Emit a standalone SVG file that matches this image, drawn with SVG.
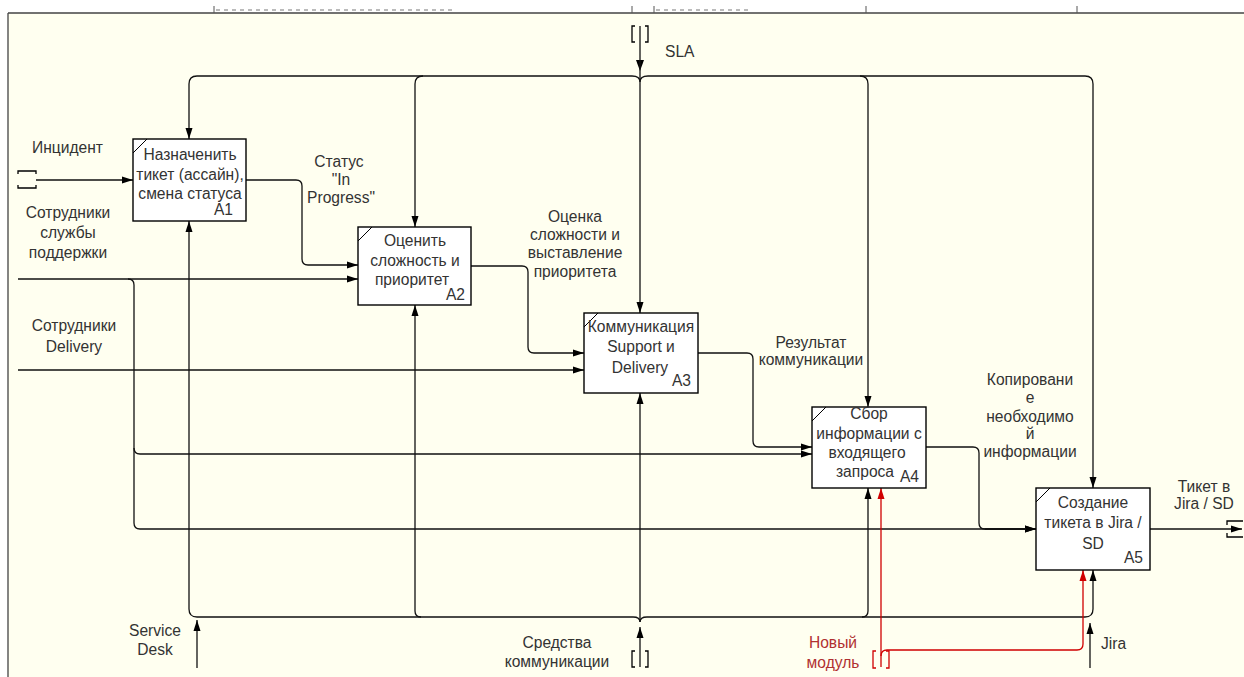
<svg xmlns="http://www.w3.org/2000/svg" width="1244" height="677" viewBox="0 0 1244 677">
  <defs>
    <marker id="arr" markerUnits="userSpaceOnUse" markerWidth="11" markerHeight="8" refX="11" refY="4" orient="auto">
      <path d="M0,0.5 L11,4 L0,7.5 z" fill="#000"/>
    </marker>
    <marker id="arrRed" markerUnits="userSpaceOnUse" markerWidth="11" markerHeight="8" refX="11" refY="4" orient="auto">
      <path d="M0,0.5 L11,4 L0,7.5 z" fill="#d00000"/>
    </marker>
    <style>
      .box { fill: #ffffff; stroke: #000; stroke-width: 1.4; }
      .tick { fill: none; stroke: #000; stroke-width: 1; }
      .t { font-family: "Liberation Sans", Arial, sans-serif; font-size: 15.6px; fill: #333; }
      .c { text-anchor: middle; }
      .r { text-anchor: end; }
      .red { fill: #b03030; }
      .ln { fill: none; stroke: #111; stroke-width: 1.3; }
      .lnA { fill: none; stroke: #111; stroke-width: 1.3; marker-end: url(#arr); }
      .lnR { fill: none; stroke: #d00000; stroke-width: 1.3; marker-end: url(#arrRed); }
      .brk { fill: none; stroke: #000; stroke-width: 1.3; }
      .brkR { fill: none; stroke: #d00000; stroke-width: 1.3; }
    </style>
  </defs>

  <!-- page and frame -->
  <rect x="0" y="0" width="1244" height="677" fill="#ffffff"/>
  <rect x="8" y="13" width="1236" height="664" fill="#fffff0"/>
  <path d="M8,13 H1244 M8,13 V677" fill="none" stroke="#444" stroke-width="1.3"/>
  <path d="M214,6 V13 M632,6 V13 M654,6 V13 M866,6 V13 M1077,6 V13" fill="none" stroke="#555" stroke-width="1"/>
  <path d="M216,10 H455 M656,10 H750" fill="none" stroke="#bbb" stroke-width="2" stroke-dasharray="4,4"/>

  <!-- connectors -->
  <g id="connectors">
    <!-- control bus (SLA) -->
    <path class="lnA" d="M632,76 H197 Q189,76 189,84 V139"/>
    <path class="lnA" d="M648,76 H1085 Q1093,76 1093,84 V488"/>
    <path class="lnA" d="M423,76 Q415,76 415,84 V227"/>
    <path class="lnA" d="M860,76 Q868,76 868,84 V407"/>
    <path class="ln" d="M632,76 Q640,76 640,82 M648,76 Q640,76 640,82"/>
    <path class="ln" d="M640,26 V60" stroke-width="2.2"/>
    <path d="M636,60 L644,60 L640,71 z" fill="#000"/>
    <path class="lnA" d="M640,60 V313"/>

    <!-- mechanism bus -->
    <path class="lnA" d="M633,617 H197 Q189,617 189,609 V221"/>
    <path class="lnA" d="M647,617 H1085 Q1093,617 1093,609 V570"/>
    <path class="lnA" d="M421,617 Q415,617 415,611 V305"/>
    <path class="lnA" d="M640,622 V393"/>
    <path class="ln" d="M633,617 Q640,617 640,622 M647,617 Q640,617 640,622"/>
    <path class="lnA" d="M862,617 Q868,617 868,611 V488"/>
    <path class="lnA" d="M640,667 V627"/>
    <path class="lnA" d="M197,668 V620"/>
    <path class="lnA" d="M1090,668 V623"/>

    <!-- inputs and outputs -->
    <path class="lnA" d="M36,180 H133"/>
    <path class="lnA" d="M246,180 H296 Q302,180 302,186 V259 Q302,265 308,265 H358"/>
    <path class="lnA" d="M18,279 H358"/>
    <path class="ln" d="M128,279 Q134,279 134,285 V448" stroke-width="2.6"/>
    <path class="lnA" d="M134,448 Q134,454 140,454 H812"/>
    <path class="lnA" d="M134,448 V523 Q134,529 140,529 H1036"/>
    <path class="lnA" d="M18,370 H584"/>
    <path class="lnA" d="M471,266 H522 Q528,266 528,272 V347 Q528,353 534,353 H584"/>
    <path class="lnA" d="M698,353 H747 Q753,353 753,359 V441 Q753,447 759,447 H812"/>
    <path class="lnA" d="M926,447 H973 Q979,447 979,453 V523 Q979,529 985,529 H1036"/>
    <path class="ln" d="M985,529 H1026" stroke-width="2.6"/>
    <path class="lnA" d="M1150,529 H1242"/>

    <!-- new module (red) -->
    <path class="lnR" d="M881,667 V488"/>
    <path class="lnR" d="M881,656 Q881,650 887,650 H1077 Q1083,650 1083,644 V570"/>

    <!-- tunnel brackets -->
    <path class="brk" d="M635,26 H632 V42 H635 M645,26 H648 V42 H645"/>
    <path class="brk" d="M635,651 H632 V667 H635 M645,651 H648 V667 H645"/>
    <path class="brkR" d="M876,651 H873 V668 H876 M886,651 H889 V668 H886"/>
    <path class="brk" d="M18,174 V171 H36 V174 M18,185 V188 H36 V185"/>
    <path class="brk" d="M1243,521 H1227 V525 M1243,537 H1227 V533"/>
  </g>

  <!-- activity boxes -->
  <g id="A1">
    <rect class="box" x="133" y="139" width="113" height="82"/>
    <path class="tick" d="M133,153 L147,139"/>
    <text class="t c" x="190" y="160">Назначенить</text>
    <text class="t c" x="190" y="180">тикет (ассайн),</text>
    <text class="t c" x="190" y="199">смена статуса</text>
    <text class="t r" x="233" y="215">A1</text>
  </g>
  <g id="A2">
    <rect class="box" x="358" y="227" width="113" height="78"/>
    <path class="tick" d="M358,241 L372,227"/>
    <text class="t c" x="415" y="246">Оценить</text>
    <text class="t c" x="415" y="266">сложность и</text>
    <text class="t c" x="412" y="285">приоритет</text>
    <text class="t r" x="465" y="300">A2</text>
  </g>
  <g id="A3">
    <rect class="box" x="584" y="313" width="114" height="80"/>
    <path class="tick" d="M584,327 L598,313"/>
    <text class="t c" x="641" y="332">Коммуникация</text>
    <text class="t c" x="641" y="352">Support и</text>
    <text class="t c" x="640" y="373">Delivery</text>
    <text class="t r" x="691" y="386">A3</text>
  </g>
  <g id="A4">
    <rect class="box" x="812" y="407" width="114" height="81"/>
    <path class="tick" d="M812,421 L826,407"/>
    <text class="t c" x="869" y="419">Сбор</text>
    <text class="t c" x="869" y="439">информации с</text>
    <text class="t c" x="867" y="458">входящего</text>
    <text class="t c" x="865" y="477">запроса</text>
    <text class="t r" x="919" y="482">A4</text>
  </g>
  <g id="A5">
    <rect class="box" x="1036" y="488" width="114" height="82"/>
    <path class="tick" d="M1036,502 L1050,488"/>
    <text class="t c" x="1093" y="508">Создание</text>
    <text class="t c" x="1093" y="528">тикета в Jira /</text>
    <text class="t c" x="1093" y="549">SD</text>
    <text class="t r" x="1143" y="563">A5</text>
  </g>

  <!-- arrow labels -->
  <g id="labels">
    <text class="t" x="665" y="57">SLA</text>
    <text class="t" x="32" y="153">Инцидент</text>
    <text class="t c" x="68" y="218">Сотрудники</text>
    <text class="t c" x="68" y="238">службы</text>
    <text class="t c" x="68" y="258">поддержки</text>
    <text class="t c" x="74" y="331">Сотрудники</text>
    <text class="t c" x="74" y="352">Delivery</text>
    <text class="t c" x="339" y="167">Статус</text>
    <text class="t c" x="341" y="185">"In</text>
    <text class="t c" x="341" y="203">Progress"</text>
    <text class="t c" x="575" y="222">Оценка</text>
    <text class="t c" x="575" y="240">сложности и</text>
    <text class="t c" x="575" y="258">выставление</text>
    <text class="t c" x="575" y="277">приоритета</text>
    <text class="t c" x="811" y="348">Результат</text>
    <text class="t c" x="811" y="365">коммуникации</text>
    <text class="t c" x="1030" y="385">Копировани</text>
    <text class="t c" x="1030" y="403">е</text>
    <text class="t c" x="1030" y="422">необходимо</text>
    <text class="t c" x="1030" y="439">й</text>
    <text class="t c" x="1030" y="457">информации</text>
    <text class="t c" x="1204" y="492">Тикет в</text>
    <text class="t c" x="1204" y="509">Jira / SD</text>
    <text class="t c" x="155" y="636">Service</text>
    <text class="t c" x="155" y="655">Desk</text>
    <text class="t c" x="557" y="648">Средства</text>
    <text class="t c" x="557" y="667">коммуникации</text>
    <text class="t c red" x="833" y="648">Новый</text>
    <text class="t c red" x="833" y="668">модуль</text>
    <text class="t" x="1101" y="649">Jira</text>
  </g>
</svg>
